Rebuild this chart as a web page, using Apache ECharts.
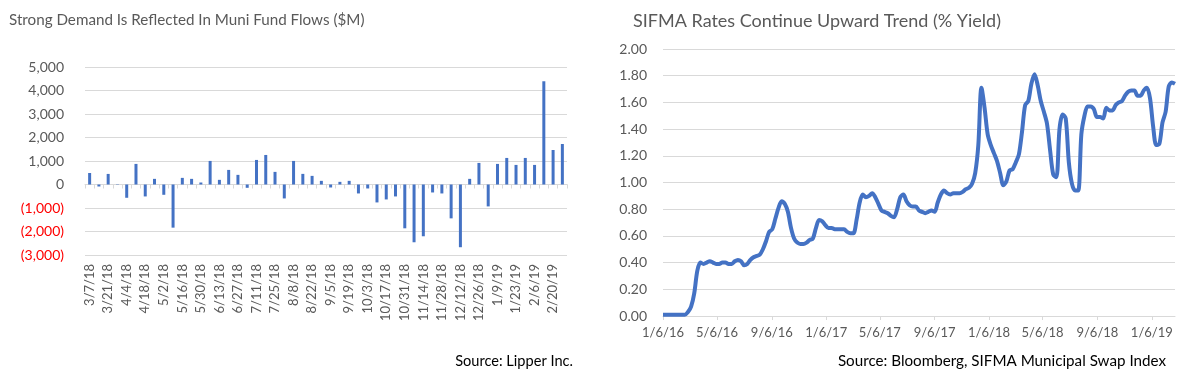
<!DOCTYPE html>
<html>
<head>
<meta charset="utf-8">
<script src="https://cdn.jsdelivr.net/npm/echarts@6/dist/echarts.min.js"></script>
<style>
html,body{margin:0;padding:0;background:#fff;}
#c{width:1192px;height:382px;}
</style>
</head>
<body>
<div id="c"></div>
<script>
// ---- Left chart data: weekly muni fund flows ($M) ----
const flowDates = ['3/7/18','3/14/18','3/21/18','3/28/18','4/4/18','4/11/18','4/18/18','4/25/18','5/2/18','5/9/18','5/16/18','5/23/18','5/30/18','6/6/18','6/13/18','6/20/18','6/27/18','7/4/18','7/11/18','7/18/18','7/25/18','8/1/18','8/8/18','8/15/18','8/22/18','8/29/18','9/5/18','9/12/18','9/19/18','9/26/18','10/3/18','10/10/18','10/17/18','10/24/18','10/31/18','11/7/18','11/14/18','11/21/18','11/28/18','12/5/18','12/12/18','12/19/18','12/26/18','1/2/19','1/9/19','1/16/19','1/23/19','1/30/19','2/6/19','2/13/19','2/20/19','2/27/19'];
const flowValues = [490,-85,450,15,-565,876,-508,240,-438,-1836,282,240,85,1003,198,621,410,-141,1045,1257,537,-593,1003,452,367,155,-127,113,155,-381,-169,-763,-636,-508,-1864,-2458,-2203,-339,-381,-1441,-2669,240,918,-932,876,1130,833,1130,833,4393,1469,1723];
const flowTicks = [-3000,-2000,-1000,0,1000,2000,3000,4000,5000];

// ---- Right chart data: SIFMA weekly rate (% yield) ----
const rateStart = '2016-01-06';
const rateValues = [0.01,0.01,0.01,0.01,0.01,0.01,0.01,0.01,0.03,0.07,
0.17,0.34,0.40,0.39,0.40,0.41,0.40,0.39,0.39,0.40,
0.40,0.39,0.39,0.41,0.42,0.41,0.38,0.39,0.42,0.44,
0.45,0.46,0.50,0.56,0.63,0.65,0.73,0.81,0.86,0.84,
0.78,0.66,0.58,0.55,0.54,0.54,0.55,0.57,0.58,0.66,
0.72,0.71,0.68,0.66,0.66,0.65,0.65,0.65,0.65,0.63,
0.62,0.62,0.72,0.85,0.91,0.89,0.90,0.92,0.89,0.84,
0.79,0.78,0.77,0.75,0.74,0.80,0.89,0.91,0.86,0.83,
0.82,0.82,0.79,0.78,0.77,0.78,0.79,0.78,0.85,0.91,
0.94,0.92,0.91,0.92,0.92,0.92,0.93,0.95,0.96,0.99,
1.07,1.28,1.71,1.56,1.36,1.28,1.22,1.16,1.07,0.98,
1.01,1.09,1.10,1.15,1.21,1.38,1.58,1.61,1.74,1.81,
1.73,1.61,1.53,1.44,1.24,1.06,1.04,1.40,1.51,1.48,
1.15,0.99,0.94,0.94,1.36,1.50,1.57,1.57,1.55,1.49,
1.49,1.48,1.56,1.54,1.54,1.58,1.60,1.61,1.65,1.68,
1.69,1.69,1.65,1.65,1.69,1.71,1.63,1.42,1.28,1.29,
1.45,1.53,1.72,1.75,1.74];
const rateTickLabels = ['1/6/16','5/6/16','9/6/16','1/6/17','5/6/17','9/6/17','1/6/18','5/6/18','9/6/18','1/6/19'];
const rateYTicks = [0,0.2,0.4,0.6,0.8,1.0,1.2,1.4,1.6,1.8,2.0];

// ---- helpers ----
const DAY = 86400000;
const t0 = Date.parse(rateStart + 'T00:00:00Z');
function mdyToDay(s){ const p = s.split('/').map(Number); return Math.round((Date.UTC(2000+p[2], p[0]-1, p[1]) - t0)/DAY); }
const rateData = rateValues.map((v,i)=>[i*7, v]);
const rateTickDays = rateTickLabels.map(mdyToDay);
const rateMaxDay = (rateValues.length-1)*7;

function fmtThousands(v){ return Math.abs(v).toString().replace(/\B(?=(\d{3})+(?!\d))/g, ','); }

const FONT = 'Lato';
const GRID_C = '#d9d9d9';
const LABEL_C = '#595959';
const BLUE = '#4472C4';

const chart = echarts.init(document.getElementById('c'), null, {renderer:'canvas'});
chart.setOption({
  animation:false,
  backgroundColor:'#ffffff',
  textStyle:{fontFamily:FONT},
  title:[
    {text:'Strong Demand Is Reflected In Muni Fund Flows ($M)', left:4, top:8, textStyle:{fontFamily:FONT, fontSize:15.2, fontWeight:'normal', color:LABEL_C}},
    {text:'SIFMA Rates Continue Upward Trend (% Yield)', left:628, top:7, textStyle:{fontFamily:FONT, fontSize:18, fontWeight:'normal', color:LABEL_C}},
    {text:'Source: Lipper Inc.', right:614, top:349, textStyle:{fontFamily:FONT, fontSize:14.6, fontWeight:'normal', color:'#000'}},
    {text:'Source: Bloomberg, SIFMA Municipal Swap Index', right:21, top:349, textStyle:{fontFamily:FONT, fontSize:15.2, fontWeight:'normal', color:'#000'}}
  ],
  grid:[
    {left:85, top:67, width:482, height:188, containLabel:false, outerBoundsMode:'none'},
    {left:663, top:49, width:512, height:267, containLabel:false, outerBoundsMode:'none'}
  ],
  xAxis:[
    {gridIndex:0, type:'category', data:flowDates, position:'bottom',
      axisLine:{show:false, onZero:false}, axisTick:{show:false},
      axisLabel:{interval:1, rotate:90, fontSize:13, color:LABEL_C, margin:9, fontFamily:FONT},
      splitLine:{show:false}},
    {gridIndex:0, type:'category', data:flowDates, position:'bottom',
      axisLine:{show:true, onZero:true, lineStyle:{color:GRID_C, width:1}},
      axisTick:{show:true, interval:0, length:4, lineStyle:{color:GRID_C}},
      axisLabel:{show:false}, splitLine:{show:false}},
    {gridIndex:1, type:'value', min:0, max:rateMaxDay,
      axisLine:{show:true, onZero:false, lineStyle:{color:GRID_C, width:1}},
      axisTick:{show:true, customValues:rateTickDays, length:4, lineStyle:{color:GRID_C}},
      axisLabel:{customValues:rateTickDays, fontSize:13, color:LABEL_C, margin:10, fontFamily:FONT,
        formatter:function(v){ const k = rateTickDays.indexOf(Math.round(v)); return k>=0 ? rateTickLabels[k] : ''; }},
      splitLine:{show:false}}
  ],
  yAxis:[
    {gridIndex:0, type:'value', min:flowTicks[0], max:flowTicks[flowTicks.length-1], interval:1000,
      axisLine:{show:false}, axisTick:{show:false},
      axisLabel:{fontSize:14, margin:21, fontFamily:FONT,
        color:function(v){ return Number(v) < 0 ? '#FF0000' : LABEL_C; },
        formatter:function(v){ return v < 0 ? '(' + fmtThousands(v) + ')' : fmtThousands(v); }},
      splitLine:{show:true, lineStyle:{color:GRID_C, width:1}}},
    {gridIndex:1, type:'value', min:rateYTicks[0], max:rateYTicks[rateYTicks.length-1], interval:0.2,
      axisLine:{show:false}, axisTick:{show:false},
      axisLabel:{fontSize:14, margin:16, color:LABEL_C, fontFamily:FONT,
        formatter:function(v){ return Number(v).toFixed(2); }},
      splitLine:{show:true, lineStyle:{color:GRID_C, width:1}}}
  ],
  series:[
    {type:'bar', xAxisIndex:0, yAxisIndex:0, data:flowValues, barWidth:3,
      itemStyle:{color:BLUE}},
    {type:'line', xAxisIndex:2, yAxisIndex:1, data:rateData, showSymbol:false, smooth:0.3,
      lineStyle:{color:BLUE, width:4}, itemStyle:{color:BLUE}}
  ]
});
</script>
</body>
</html>
